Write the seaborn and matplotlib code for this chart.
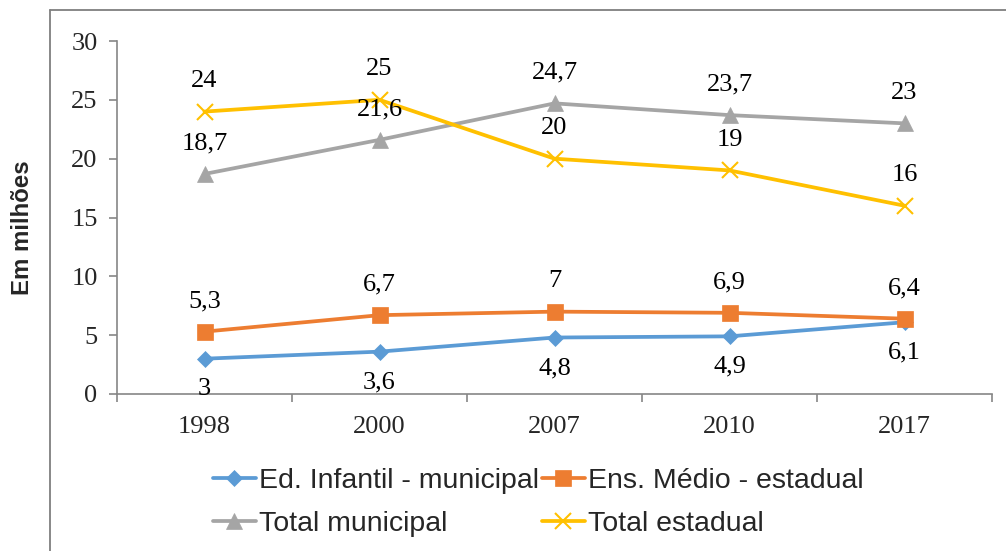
import matplotlib
matplotlib.use("Agg")
import matplotlib.pyplot as plt
from matplotlib.lines import Line2D
import seaborn as sns
import pandas as pd

years = ["1998", "2000", "2007", "2010", "2017"]
ed_infantil_municipal = [3, 3.6, 4.8, 4.9, 6.1]
ens_medio_estadual = [5.3, 6.7, 7, 6.9, 6.4]
total_municipal = [18.7, 21.6, 24.7, 23.7, 23]
total_estadual = [24, 25, 20, 19, 16]

series_names = ["Ed. Infantil - municipal", "Ens. Médio - estadual",
                "Total municipal", "Total estadual"]
series_values = [ed_infantil_municipal, ens_medio_estadual,
                 total_municipal, total_estadual]

sns.set_theme(style="white")
plt.rcParams["font.family"] = ["Liberation Sans", "DejaVu Sans"]

colors = ["#5B9BD5", "#ED7D31", "#A5A5A5", "#FFC000"]
markers = ["D", "s", "^", "x"]
msizes = [8.5, 11, 11, 12]
label_offsets = [-22, 22, 22, 22]  # points; negative = below the point
num_size = 19
serif = ["Liberation Serif", "DejaVu Serif"]

rows = []
for name, vals in zip(series_names, series_values):
    for i, v in enumerate(vals):
        rows.append({"serie": name, "pos": i, "valor": v})
df = pd.DataFrame(rows)

fig = plt.figure(figsize=(10.06, 5.51), dpi=100)
ax = fig.add_axes([117 / 1006, 1 - 394 / 551, (992 - 117) / 1006, (394 - 41) / 551])

handles = []
for name, col, mk, ms, off in zip(series_names, colors, markers, msizes, label_offsets):
    sub = df[df["serie"] == name]
    mew = 1.5 if mk == "x" else 0.5
    sns.lineplot(data=sub, x="pos", y="valor", ax=ax, color=col, linewidth=2.7,
                 marker=mk, markersize=ms, markeredgecolor=col,
                 markeredgewidth=mew, legend=False)
    for x, y in zip(sub["pos"], sub["valor"]):
        txt = f"{y:g}".replace(".", ",")
        ax.annotate(txt, (x, y), xytext=(0, off), textcoords="offset points",
                    ha="center", va="center", fontsize=num_size,
                    family=serif, color="black")
    handles.append(Line2D([], [], color=col, linewidth=2.7, marker=mk, markersize=ms,
                          markeredgecolor=col, markeredgewidth=mew, label=name))

ax.set_xlim(-0.5, 4.5)
ax.set_ylim(0, 30)
ax.set_yticks(range(0, 31, 5))
ax.set_xticks(range(len(years)))
ax.set_xticklabels(years)
ax.set_xticks([i - 0.5 for i in range(len(years) + 1)], minor=True)
ax.set_xlabel("")
ax.set_ylabel("")

for lab in ax.get_xticklabels() + ax.get_yticklabels():
    lab.set_family(serif)
    lab.set_fontsize(num_size)

spine_color = "#868686"
for side in ["top", "right"]:
    ax.spines[side].set_visible(False)
for side in ["left", "bottom"]:
    ax.spines[side].set_color(spine_color)
    ax.spines[side].set_linewidth(1.2)

ax.tick_params(axis="y", which="major", direction="out", length=6, width=1.2,
               color=spine_color, pad=8, left=True)
ax.tick_params(axis="x", which="major", length=0, pad=16, bottom=True)
ax.tick_params(axis="x", which="minor", direction="out", length=6, width=1.2,
               color=spine_color, bottom=True)

fig.text(23 / 1006, 1 - 228 / 551, "Em milhões", rotation=90, ha="center",
         va="center", fontsize=17.3, fontweight="bold")

# legend: two columns, row-major order
order = [0, 2, 1, 3]
fig.legend([handles[i] for i in order], [series_names[i] for i in order],
           ncol=2, loc="upper left", bbox_to_anchor=(213 / 1006, 1 - 468 / 551),
           frameon=False, fontsize=20.5, handlelength=1.5, handletextpad=0.12,
           columnspacing=0.1, labelspacing=0.6, borderpad=0, borderaxespad=0)

# outer chart border
frame_kw = dict(color="#7F7F7F", linewidth=1.3, transform=fig.transFigure)
fig.add_artist(Line2D([50 / 1006, 50 / 1006], [0, 1 - 10 / 551], **frame_kw))
fig.add_artist(Line2D([50 / 1006, 1.0], [1 - 10 / 551, 1 - 10 / 551], **frame_kw))

fig.savefig("out.png", dpi=100)
